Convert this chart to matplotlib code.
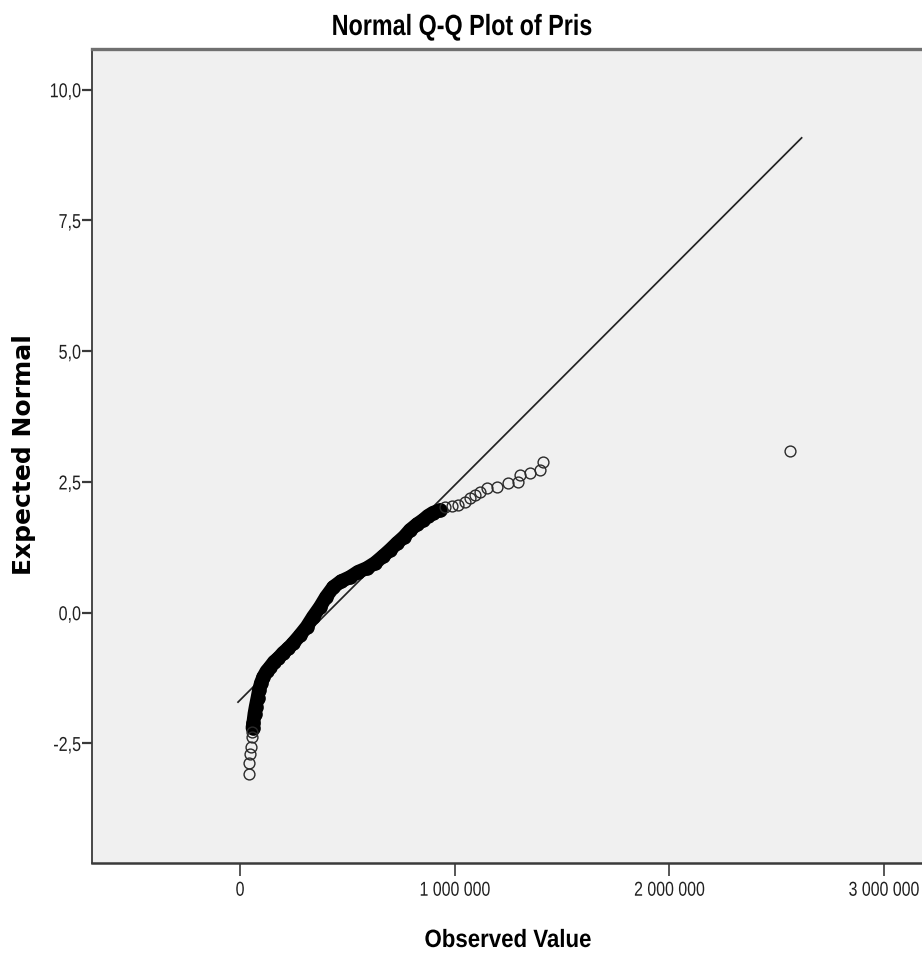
import matplotlib
matplotlib.use("Agg")
import matplotlib.pyplot as plt
import matplotlib.patheffects as pe
from matplotlib.transforms import Affine2D
from matplotlib.ticker import FuncFormatter

low_obs = [43300, 43300, 44300, 48900, 53600, 55900]
low_exp = [-3.09, -2.88, -2.71, -2.57, -2.38, -2.28]

band_obs = [58300, 62000, 67600, 73200, 81500, 88500, 97900, 108600, 123500,
            139800, 158400, 178500, 200400, 225100, 248400, 279600, 310800,
            340200, 372800, 400700, 434800, 470600, 512600, 549900, 590400,
            629100, 666400, 699000, 731600, 764200, 792200, 824800, 852700,
            876000, 899300, 932000]
band_exp = [-2.20, -2.11, -1.93, -1.80, -1.63, -1.48, -1.34, -1.23, -1.12,
            -1.04, -0.94, -0.87, -0.77, -0.68, -0.58, -0.43, -0.27,
            -0.08, 0.11, 0.30, 0.49, 0.60, 0.68, 0.78, 0.85,
            0.95, 1.08, 1.20, 1.33, 1.45, 1.58, 1.69, 1.77,
            1.85, 1.91, 1.96]

tail_obs = [955300, 987900, 1015800, 1048500, 1071800, 1095000, 1118400,
            1151000, 1197600, 1248800, 1295400, 1304800, 1351300, 1398000,
            1411900, 2560600]
tail_exp = [2.03, 2.04, 2.06, 2.12, 2.19, 2.25, 2.31, 2.38, 2.40, 2.48,
            2.50, 2.63, 2.67, 2.73, 2.88, 3.09]

line_obs = [-9300, 2617000]
line_exp = [-1.71, 9.08]

x_ticks = [0, 1000000, 2000000, 3000000]
y_ticks = [-2.5, 0.0, 2.5, 5.0, 7.5, 10.0]


class Narrow(pe.AbstractPathEffect):
    # squeeze text horizontally, to get an Arial Narrow look
    def __init__(self, sx=0.82, anchor=0.5):
        super().__init__()
        self.sx = sx
        self.anchor = anchor

    def draw_path(self, renderer, gc, tpath, affine, rgbFace=None):
        ext = tpath.get_extents()
        x0 = ext.x0 + self.anchor * ext.width
        squash = Affine2D().translate(-x0, 0).scale(self.sx, 1).translate(x0, 0)
        renderer.draw_path(gc, tpath, squash + affine, rgbFace)


fig = plt.figure(figsize=(9.22, 9.58), dpi=100)
ax = fig.add_axes([0.0998, 0.0995, 0.9002, 0.8494])
ax.set_facecolor("#f0f0f0")

ax.plot(line_obs, line_exp, color="#222222", lw=1.25, zorder=2)

# dense part: hundreds of overlapping circles, drawn as one solid band
ax.plot(band_obs, band_exp, color="black", lw=10, solid_capstyle="round",
        solid_joinstyle="round", marker="o", ms=9.5, mfc="black", mec="black",
        zorder=3)
ax.plot(low_obs, low_exp, ls="none", marker="o", ms=7.8, mfc="none",
        mec="#2a2a2a", mew=1.0, zorder=4)
ax.plot(tail_obs, tail_exp, ls="none", marker="o", ms=7.8, mfc="none",
        mec="#2a2a2a", mew=1.0, zorder=4)

ax.set_xlim(-689700, 3178000)
ax.set_ylim(-4.78, 10.78)

ax.set_xticks(x_ticks)
ax.set_yticks(y_ticks)
ax.xaxis.set_major_formatter(FuncFormatter(lambda v, p: f"{int(v):,}".replace(",", " ")))
ax.yaxis.set_major_formatter(FuncFormatter(lambda v, p: f"{v:.1f}".replace(".", ",")))

ax.spines["right"].set_visible(False)
ax.spines["top"].set_color("#707070")
ax.spines["top"].set_linewidth(2.4)
ax.spines["left"].set_color("#3a3a3a")
ax.spines["left"].set_linewidth(1.3)
ax.spines["bottom"].set_color("#3a3a3a")
ax.spines["bottom"].set_linewidth(1.8)

ax.tick_params(axis="x", length=9, width=1.2, color="#3a3a3a", pad=4)
ax.tick_params(axis="y", length=7, width=1.6, color="#3a3a3a", pad=1)

for lab in ax.get_xticklabels():
    lab.set_fontfamily("Liberation Sans")
    lab.set_fontsize(14.5)
    lab.set_color("#202020")
    lab.set_path_effects([Narrow(0.79, 0.5)])
for lab in ax.get_yticklabels():
    lab.set_fontfamily("Liberation Sans")
    lab.set_fontsize(14.5)
    lab.set_color("#202020")
    lab.set_path_effects([Narrow(0.8, 1.0)])

fig.text(0.501, 0.9635, "Normal Q-Q Plot of Pris", ha="center", va="baseline",
         fontfamily="Liberation Sans", fontweight="bold", fontsize=21,
         path_effects=[Narrow(0.8, 0.5)])
fig.text(0.551, 0.0115, "Observed Value", ha="center", va="baseline",
         fontfamily="Liberation Sans", fontweight="bold", fontsize=18,
         path_effects=[Narrow(0.89, 0.5)])
fig.text(0.0255, 0.525, "Expected Normal", ha="center", va="center",
         rotation=90, fontfamily="DejaVu Sans", fontweight="bold", fontsize=18)

fig.savefig("out.png", dpi=100)
